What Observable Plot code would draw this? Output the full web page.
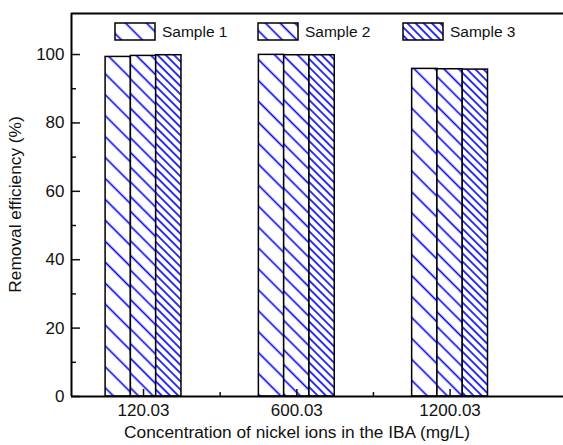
<!DOCTYPE html>
<html>
<head>
<meta charset="utf-8">
<script src="https://cdn.jsdelivr.net/npm/d3@7"></script>
<script src="https://cdn.jsdelivr.net/npm/@observablehq/plot@0.6"></script>
<style>
  html, body { margin: 0; padding: 0; background: #fff; }
  svg { display: block; }
</style>
</head>
<body>
<div id="chart"></div>
<script>
// ---- data ----
const concentrations = ["120.03", "600.03", "1200.03"];
const samples = ["Sample 1", "Sample 2", "Sample 3"];
const sample1 = [99.3, 99.9, 95.8];
const sample2 = [99.6, 99.8, 95.7];
const sample3 = [99.8, 99.8, 95.6];
const yTicks = [0, 20, 40, 60, 80, 100];
const yMinorTicks = [10, 30, 50, 70, 90];
const xMinorTicks = [0.5, 1.5];

const series = [sample1, sample2, sample3];
const patternIds = ["hatch1", "hatch2", "hatch3"];
const barW = 0.165;
const xDomain = [-0.47, 2.74];
const yDomain = [0, 112];

const rows = [];
series.forEach((vals, s) => vals.forEach((v, i) => rows.push({
  i, s, sample: samples[s], conc: concentrations[i], value: v,
  x1: i + (s - 1) * barW - barW / 2, x2: i + (s - 1) * barW + barW / 2
})));

const font = "'Liberation Sans', Arial, sans-serif";

const marks = [];
samples.forEach((name, s) => {
  marks.push(Plot.rect(rows.filter(d => d.s === s), {
    x1: "x1", x2: "x2", y1: 0, y2: "value",
    fill: `url(#${patternIds[s]})`, stroke: "black", strokeWidth: 1.5
  }));
});

marks.push(
  // y axis labels and inward ticks
  Plot.axisY({ticks: yTicks, tickSize: 0, tickPadding: 7, fontSize: 17, label: null, fill: "#111"}),
  Plot.axisY({ticks: yTicks, tickSize: -9, tickFormat: () => "", strokeWidth: 1.5, label: null}),
  Plot.axisY({ticks: yMinorTicks, tickSize: -5, tickFormat: () => "", strokeWidth: 1.5, label: null}),
  // x axis labels and inward ticks
  Plot.axisX({ticks: [0, 1, 2], tickSize: 0, tickPadding: 7, fontSize: 17,
    tickFormat: i => concentrations[i], label: null, fill: "#111"}),
  Plot.axisX({ticks: [0, 1, 2], tickSize: -7, tickFormat: () => "", strokeWidth: 1.5, label: null}),
  Plot.axisX({ticks: xMinorTicks, tickSize: -4, tickFormat: () => "", strokeWidth: 1.5, label: null}),
  // frame lines (left, top, bottom)
  Plot.ruleX([xDomain[0]], {stroke: "black", strokeWidth: 2}),
  Plot.ruleY([yDomain[0], yDomain[1]], {stroke: "black", strokeWidth: 2})
);

const chart = Plot.plot({
  width: 563,
  height: 445,
  marginLeft: 71,
  marginRight: 0,
  marginTop: 13,
  marginBottom: 49,
  style: {fontFamily: font, fontSize: "17px", color: "#111", background: "white"},
  x: {type: "linear", domain: xDomain, label: null},
  y: {domain: yDomain, label: null},
  marks
});

// hatch patterns
const svg = d3.select(chart);
const defs = svg.insert("defs", ":first-child");
const spacings = [14.8, 10.4, 5.8];
spacings.forEach((sp, k) => {
  const p = defs.append("pattern")
    .attr("id", patternIds[k])
    .attr("patternUnits", "userSpaceOnUse")
    .attr("width", sp).attr("height", sp)
    .attr("patternTransform", "rotate(-45)");
  p.append("rect").attr("width", sp).attr("height", sp).attr("fill", "white");
  p.append("line").attr("x1", sp / 2).attr("x2", sp / 2).attr("y1", -1).attr("y2", sp + 1)
    .attr("stroke", "#0000ee").attr("stroke-width", 1.6);
});

// axis titles
const W = 563, H = 445, mL = 71, mT = 13, mB = 49;
svg.append("text")
  .attr("x", 297).attr("y", 438)
  .attr("text-anchor", "middle")
  .attr("font-family", font).attr("font-size", 17.3).attr("fill", "#111")
  .text("Concentration of nickel ions in the IBA (mg/L)");
svg.append("text")
  .attr("transform", `translate(21,${(mT + H - mB) / 2}) rotate(-90)`)
  .attr("text-anchor", "middle")
  .attr("font-family", font).attr("font-size", 17.3).attr("fill", "#111")
  .text("Removal efficiency (%)");

// legend inside plot area
const legendX = [115, 258, 403];
samples.forEach((name, k) => {
  const g = svg.append("g").attr("transform", `translate(${legendX[k]},23)`);
  g.append("rect").attr("width", 40).attr("height", 17)
    .attr("fill", `url(#${patternIds[k]})`).attr("stroke", "black").attr("stroke-width", 1.5);
  g.append("text").attr("x", 47).attr("y", 14)
    .attr("text-anchor", "start")
    .attr("font-family", font).attr("font-size", 15.5).attr("fill", "#111")
    .text(name);
});

document.getElementById("chart").appendChild(chart);
</script>
</body>
</html>
